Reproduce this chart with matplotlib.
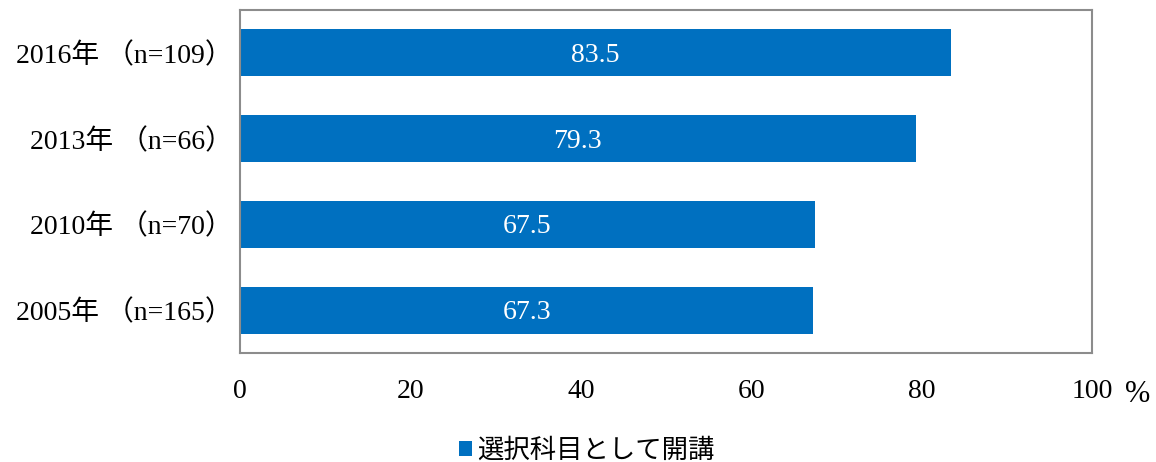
import matplotlib.pyplot as plt
import numpy as np

# survey rounds, bottom to top
years = ["2005年", "2010年", "2013年", "2016年"]
counts = [165, 70, 66, 109]
values = [67.3, 67.5, 79.3, 83.5]
series_name = "選択科目として開講"
xticks = [0, 20, 40, 60, 80, 100]

serif = ["Liberation Serif", "Noto Sans CJK JP"]
gothic = ["Noto Sans CJK JP", "DejaVu Sans"]
blue = "#0070C0"

fig = plt.figure(figsize=(11.56, 4.62), dpi=100)
ax = fig.add_axes([0.2076, 0.2359, 0.7370, 0.7425])

y = np.arange(len(years))
bars = ax.barh(y, values, height=0.55, color=blue, label=series_name)

for b, v in zip(bars, values):
    ax.text(v / 2, b.get_y() + b.get_height() / 2 - 0.03, f"{v:.1f}",
            ha="center", va="center", color="white", fontsize=20, family=serif)

ax.set_xlim(0, 100)
ax.set_ylim(-0.5, len(years) - 0.5)
ax.set_yticks(y)
ax.set_yticklabels([f"{yr} （n={n}）" for yr, n in zip(years, counts)],
                   fontsize=20, family=serif)
ax.set_xticks(xticks)
ax.set_xticklabels([str(t) for t in xticks], fontsize=20, family=serif)
ax.tick_params(axis="both", length=0)
ax.tick_params(axis="x", pad=19)
# the full-width bracket carries its own blank half-em on the right
ax.tick_params(axis="y", pad=5)

for s in ax.spines.values():
    s.set_color("#8c8c8c")
    s.set_linewidth(1.5)

fig.text(1138 / 1156, 1 - 394 / 462, "%", ha="center", va="center",
         fontsize=22, family=serif)

leg = fig.legend(loc="center", bbox_to_anchor=(587 / 1156, 1 - 450 / 462),
                 frameon=False, handlelength=0.5, handleheight=0.5,
                 handletextpad=0.2, prop={"family": gothic, "size": 19})

fig.savefig("out.png", dpi=100)
